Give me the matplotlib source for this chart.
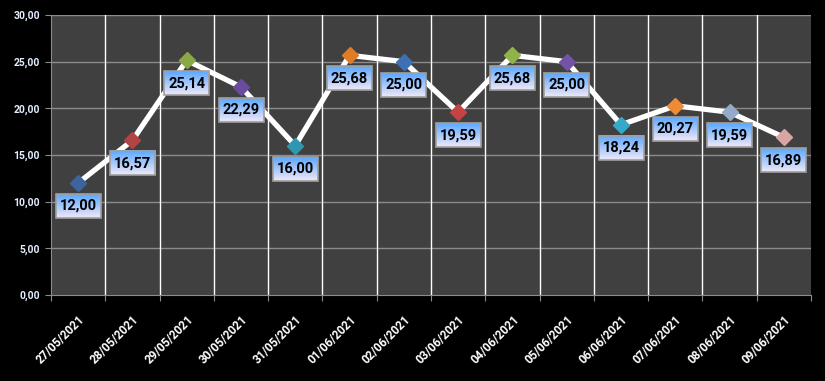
import matplotlib
matplotlib.use("Agg")
import matplotlib.pyplot as plt
import numpy as np
from matplotlib.patches import Rectangle
from matplotlib.colors import to_rgb

dates = ["27/05/2021", "28/05/2021", "29/05/2021", "30/05/2021", "31/05/2021",
         "01/06/2021", "02/06/2021", "03/06/2021", "04/06/2021", "05/06/2021",
         "06/06/2021", "07/06/2021", "08/06/2021", "09/06/2021"]
values = [12.00, 16.57, 25.14, 22.29, 16.00, 25.68, 25.00, 19.59, 25.68, 25.00,
          18.24, 20.27, 19.59, 16.89]
marker_colors = ["#3c64a0", "#b24444", "#8aa845", "#6a4c9c", "#2d98b0", "#e07b26",
                 "#3e70b4", "#c44444", "#90b448", "#7452a6", "#38a8c8", "#f08a36",
                 "#94aac8", "#d8a4a4"]
yticks = [0, 5, 10, 15, 20, 25, 30]

plt.rcParams["font.family"] = ["Roboto", "DejaVu Sans"]

W, H = 825, 381
fig = plt.figure(figsize=(W/100, H/100), dpi=100, facecolor="black")
L, R, T, B = 51, 811, 15, 295
ax = fig.add_axes([L/W, 1 - B/H, (R-L)/W, (B-T)/H])
ax.set_facecolor("#404040")

n = len(dates)
x = np.arange(n)

for yv in yticks[1:]:
    ax.axhline(yv, color="#8c8c8c", lw=1.0, zorder=1)
for b in np.arange(0.5, n - 0.5, 1):
    ax.axvline(b, color="white", lw=1.0, zorder=1)

for s in ax.spines.values():
    s.set_visible(False)
ax.spines["left"].set_visible(True)
ax.spines["left"].set_color("#8c8c8c")
ax.spines["bottom"].set_visible(True)
ax.spines["bottom"].set_color("#8c8c8c")

ax.plot(x, values, color="white", lw=3.8, zorder=3, solid_capstyle="round")
for xi, v, c in zip(x, values, marker_colors):
    ax.plot(xi, v, marker="D", markersize=8.5, color=c, markeredgecolor=c,
            zorder=4)

xpp = n / (R - L)
ypp = 30 / (B - T)
bw, bh = 45 * xpp, 24 * ypp
top = np.array(to_rgb("#5aa8ff"))
bot = np.array(to_rgb("#f0e8f8"))
grad = np.linspace(0, 1, 60)[:, None, None]
img = top * (1 - grad) + bot * grad
for xi, v in zip(x, values):
    cy = v - 23 * ypp
    ax.imshow(img, extent=[xi - bw/2, xi + bw/2, cy - bh/2, cy + bh/2],
              aspect="auto", zorder=5, interpolation="bilinear")
    ax.add_patch(Rectangle((xi - bw/2, cy - bh/2), bw, bh, fill=False,
                           edgecolor="#a0a0a0", lw=1.2, zorder=6))
    ax.text(xi, cy, f"{v:.2f}".replace(".", ","), ha="center", va="center",
            fontsize=10.5, fontweight="bold", color="black", zorder=7)

ax.set_xlim(-0.5, n - 0.5)
ax.set_ylim(0, 30)

ax.set_yticks(yticks)
ax.set_yticklabels([f"{t:.2f}".replace(".", ",") for t in yticks],
                   color="#e6efff", fontsize=7.5, fontweight="bold")
ax.set_xticks(np.arange(-0.5, n, 1), minor=False)
ax.set_xticklabels([])
ax.set_xticks(x, minor=True)
ax.set_xticklabels(dates, minor=True, rotation=45, ha="right",
                   rotation_mode="anchor", color="white", fontsize=8.5,
                   fontweight="bold")
ax.tick_params(axis="x", which="major", length=4, color="#8c8c8c")
ax.tick_params(axis="x", which="minor", length=0, pad=13)
ax.tick_params(axis="y", length=4, color="#8c8c8c", pad=4)

fig.savefig("out.png", dpi=100, facecolor="black")
